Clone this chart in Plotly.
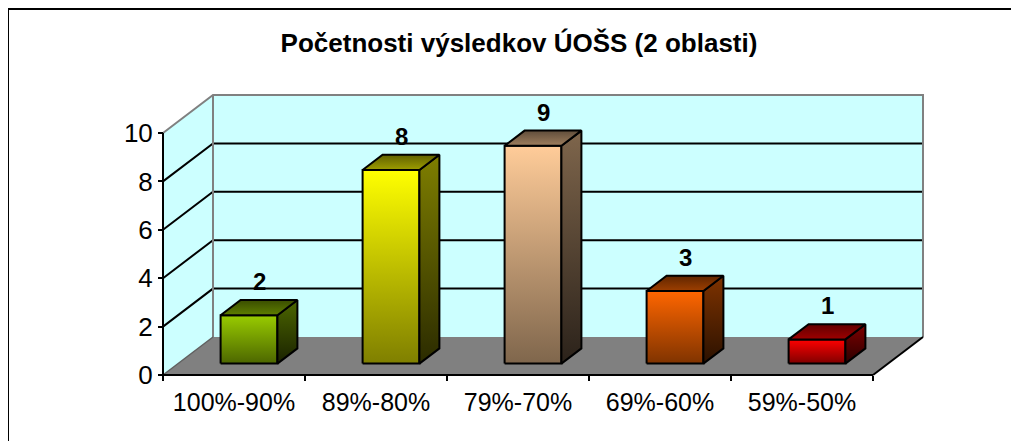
import plotly.graph_objects as go

# ---------------- data ----------------
categories = ["100%-90%", "89%-80%", "79%-70%", "69%-60%", "59%-50%"]
counts = [2, 8, 9, 3, 1]
bar_colors = ["#99CC00", "#FFFF00", "#FFCC99", "#FF6600", "#FF0000"]
y_ticks = [0, 2, 4, 6, 8, 10]
title_text = "Početnosti výsledkov ÚOŠS (2 oblasti)"

# ---------------- geometry / style ----------------
OFF = 8  # page body margin
W, H = 1019 - OFF, 441 - OFF
PLOT_W, PLOT_H = 809, 296
ML, MT = 135 - OFF, 89 - OFF
MR, MB = W - ML - PLOT_W, H - MT - PLOT_H
PX_PER_CAT = 142.0
PX_PER_UNIT = 24.2
X0 = -28 / PX_PER_CAT
X1 = X0 + PLOT_W / PX_PER_CAT
Y0 = -10 / PX_PER_UNIT
Y1 = Y0 + PLOT_H / PX_PER_UNIT
DEPTH_X = 50 / PX_PER_CAT
DEPTH_Y = 38 / PX_PER_UNIT
YMAX = max(y_ticks)
NCAT = len(categories)
BAR_W0, BAR_W1 = 0.3, 0.7
BAR_D0, BAR_D1 = 0.3, 0.7
FONT = "Liberation Sans, Arial, sans-serif"


def proj(c, v, d):
    return c + d * DEPTH_X, v + d * DEPTH_Y


def shade(hexcol, f):
    h = hexcol.lstrip("#")
    r, g, b = (int(h[i:i + 2], 16) for i in (0, 2, 4))
    return "#%02x%02x%02x" % (int(r * f), int(g * f), int(b * f))


fig = go.Figure()


def poly(points, fillcolor=None, line_color="black", line_width=0, grad=None, closed=True):
    xs = [p[0] for p in points]
    ys = [p[1] for p in points]
    if closed:
        xs.append(xs[0])
        ys.append(ys[0])
    kw = dict(x=xs, y=ys, mode="lines", hoverinfo="skip", showlegend=False,
              line=dict(color=line_color, width=line_width))
    if fillcolor is not None or grad is not None:
        kw["fill"] = "toself"
        if grad is not None:
            c_lo, c_hi = grad
            kw["fillgradient"] = dict(type="vertical",
                                      colorscale=[[0, c_lo], [1, c_hi]],
                                      start=min(ys), stop=max(ys))
        else:
            kw["fillcolor"] = fillcolor
    fig.add_trace(go.Scatter(**kw))


# back wall
poly([proj(0, 0, 1), proj(NCAT, 0, 1), proj(NCAT, YMAX, 1), proj(0, YMAX, 1)], fillcolor="#CCFFFF")
# left wall
poly([proj(0, 0, 0), proj(0, 0, 1), proj(0, YMAX, 1), proj(0, YMAX, 0)], fillcolor="#CCFFFF")
# floor
poly([proj(0, 0, 0), proj(NCAT, 0, 0), proj(NCAT, 0, 1), proj(0, 0, 1)], fillcolor="#808080")

# gridlines on walls
for v in y_ticks[1:-1]:
    poly([proj(0, v, 0), proj(0, v, 1), proj(NCAT, v, 1)], line_color="black", line_width=2, closed=False)

# wall edges (gray)
poly([proj(0, YMAX, 0), proj(0, YMAX, 1), proj(NCAT, YMAX, 1), proj(NCAT, 0, 1)],
     line_color="#808080", line_width=2, closed=False)
poly([proj(0, 0, 1), proj(0, YMAX, 1)], line_color="#808080", line_width=2, closed=False)
poly([proj(0, 0, 0), proj(0, 0, 1)], line_color="#606060", line_width=1.5, closed=False)
# floor right edge
poly([proj(NCAT, 0, 0), proj(NCAT, 0, 1)], line_color="black", line_width=2, closed=False)

# bars
for i, (v, col) in enumerate(zip(counts, bar_colors)):
    c0, c1 = i + BAR_W0, i + BAR_W1
    # front face
    poly([proj(c0, 0, BAR_D0), proj(c1, 0, BAR_D0), proj(c1, v, BAR_D0), proj(c0, v, BAR_D0)],
         line_width=2, grad=(shade(col, 0.5), col))
    # side face
    poly([proj(c1, 0, BAR_D0), proj(c1, 0, BAR_D1), proj(c1, v, BAR_D1), proj(c1, v, BAR_D0)],
         line_width=2, grad=(shade(col, 0.17), shade(col, 0.5)))
    # top face
    poly([proj(c0, v, BAR_D0), proj(c1, v, BAR_D0), proj(c1, v, BAR_D1), proj(c0, v, BAR_D1)],
         line_width=2, grad=(shade(col, 0.62), shade(col, 0.38)))
    # value label
    lx, ly = proj(i + 0.5, v, 0.5)
    fig.add_annotation(x=lx, y=ly + 26 / PX_PER_UNIT, text=str(v), showarrow=False,
                       font=dict(family=FONT, size=24, color="black", weight="bold"),
                       xanchor="center", yanchor="middle")

# front axes
poly([proj(0, 0, 0), proj(0, YMAX, 0)], line_color="black", line_width=2, closed=False)
poly([proj(0, 0, 0), proj(NCAT, 0, 0)], line_color="black", line_width=2, closed=False)

fig.update_layout(
    width=W, height=H,
    margin=dict(l=ML, r=MR, t=MT, b=MB),
    paper_bgcolor="white", plot_bgcolor="white",
    title=dict(text=title_text, x=(519 - OFF) / W, y=1 - (43 - OFF) / H,
               xanchor="center", yanchor="middle", xref="container", yref="container",
               font=dict(family=FONT, size=26, color="black", weight="bold")),
    xaxis=dict(range=[X0, X1], anchor="free", position=(0 - Y0) / (Y1 - Y0),
               showline=False, showgrid=False, zeroline=False,
               tickmode="array", tickvals=[i + 0.5 for i in range(NCAT)], ticktext=categories,
               ticks="", ticklabelstandoff=10,
               tickfont=dict(family=FONT, size=25, color="black"),
               minor=dict(tickmode="array", tickvals=list(range(NCAT + 1)), ticks="outside",
                          ticklen=5, tickwidth=2, tickcolor="black", showgrid=False)),
    yaxis=dict(range=[Y0, Y1], anchor="free", position=(0 - X0) / (X1 - X0),
               showline=False, showgrid=False, zeroline=False,
               tickmode="array", tickvals=y_ticks, ticks="outside", ticklen=5, tickwidth=2,
               tickcolor="black", tickfont=dict(family=FONT, size=26, color="black")),
    shapes=[dict(type="rect", xref="paper", yref="paper",
                 x0=(8 - OFF - ML) / PLOT_W, x1=(1040 - OFF - ML) / PLOT_W,
                 y0=(MT + PLOT_H - (460 - OFF)) / PLOT_H, y1=(MT + PLOT_H - (9 - OFF)) / PLOT_H,
                 line=dict(color="black", width=2), fillcolor="rgba(0,0,0,0)")],
)

fig.write_html("out.html")
